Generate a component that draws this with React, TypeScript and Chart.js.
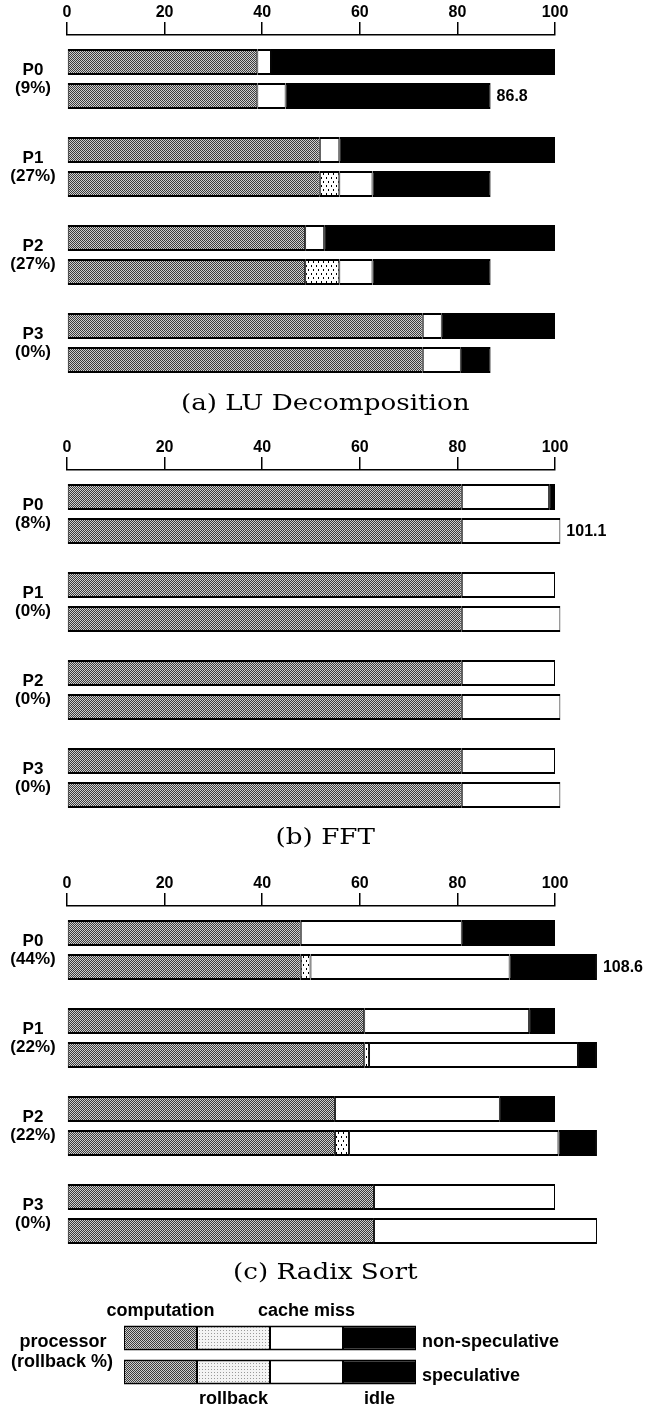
import React, { useEffect, useRef } from 'react';
import { Chart, registerables } from 'chart.js';
Chart.register(...registerables);

const processors = ['P0', 'P1', 'P2', 'P3'];
const xTickStep = 20;
const xMax = 100;

// (a) LU Decomposition
const luRollbackPct = ['(9%)', '(27%)', '(27%)', '(0%)'];
const luNsComputation = [39.0, 51.8, 48.8, 72.9];
const luNsRollback = [0, 0, 0, 0];
const luNsCacheMiss = [2.8, 4.0, 3.9, 3.9];
const luNsIdle = [58.2, 44.2, 47.3, 23.2];
const luSpComputation = [39.0, 51.8, 48.8, 72.9];
const luSpRollback = [0, 4.0, 7.0, 0];
const luSpCacheMiss = [5.8, 6.8, 6.8, 7.8];
const luSpIdle = [42.0, 24.2, 24.2, 6.1];

// (b) FFT
const fftRollbackPct = ['(8%)', '(0%)', '(0%)', '(0%)'];
const fftNsComputation = [80.9, 80.9, 80.9, 80.9];
const fftNsRollback = [0, 0, 0, 0];
const fftNsCacheMiss = [17.9, 19.1, 19.1, 19.1];
const fftNsIdle = [1.2, 0, 0, 0];
const fftSpComputation = [80.9, 80.9, 80.9, 80.9];
const fftSpRollback = [0, 0, 0, 0];
const fftSpCacheMiss = [20.2, 20.2, 20.2, 20.2];
const fftSpIdle = [0, 0, 0, 0];

// (c) Radix Sort
const rxRollbackPct = ['(44%)', '(22%)', '(22%)', '(0%)'];
const rxNsComputation = [47.9, 60.9, 54.9, 62.9];
const rxNsRollback = [0, 0, 0, 0];
const rxNsCacheMiss = [33.0, 33.8, 33.8, 37.1];
const rxNsIdle = [19.1, 5.3, 11.3, 0];
const rxSpComputation = [47.9, 60.9, 54.9, 62.9];
const rxSpRollback = [2.0, 1.0, 2.9, 0];
const rxSpCacheMiss = [40.8, 42.8, 42.9, 45.7];
const rxSpIdle = [17.9, 3.9, 7.9, 0];

// legend
const legendRows = ['non-speculative', 'speculative'];
const legendSegments = ['computation', 'rollback', 'cache miss', 'idle'];
const legendShare = [25, 25];

const SANS = '"Liberation Sans", Arial, Helvetica, sans-serif';

function makePattern(kind: string): CanvasPattern | string {
  const c = document.createElement('canvas');
  const g = c.getContext('2d')!;
  if (kind === 'checker') {
    c.width = 2; c.height = 2;
    g.fillStyle = '#cfcfcf'; g.fillRect(0, 0, 2, 2);
    g.fillStyle = '#3c3c3c'; g.fillRect(0, 0, 1, 1); g.fillRect(1, 1, 1, 1);
  } else if (kind === 'dots') {
    c.width = 5; c.height = 8;
    g.fillStyle = '#ffffff'; g.fillRect(0, 0, 5, 8);
    g.fillStyle = '#000000'; g.fillRect(1, 1, 1, 2); g.fillRect(3, 5, 1, 2);
  } else {
    c.width = 3; c.height = 3;
    g.fillStyle = '#f4f4f4'; g.fillRect(0, 0, 3, 3);
    g.fillStyle = '#9a9a9a'; g.fillRect(1, 1, 1, 1);
  }
  const p = g.createPattern(c, 'repeat');
  return p || '#888';
}

const nz = (a: number[]) => a.map((v) => (v === 0 ? null : v));

type PanelData = {
  pct: string[];
  ns: number[][];
  sp: number[][];
};

const panelLabelPlugin = {
  id: 'panelLabels',
  afterDraw(chart: any, _args: any, opts: any) {
    const { ctx } = chart;
    const x = chart.scales.x;
    const y = chart.scales.y;
    ctx.save();
    ctx.fillStyle = '#000';
    ctx.font = `bold 17px ${SANS}`;
    ctx.textAlign = 'center';
    ctx.textBaseline = 'middle';
    processors.forEach((p: string, i: number) => {
      const cy = y.getPixelForValue(i);
      ctx.fillText(p, 33, cy - 9);
      ctx.fillText(opts.pct[i], 33, cy + 9);
    });
    const total = opts.sp.reduce((s: number, arr: number[]) => s + arr[0], 0);
    const meta = chart.getDatasetMeta(4);
    const bar = meta.data[0] as any;
    ctx.textAlign = 'left';
    ctx.font = `bold 16px ${SANS}`;
    ctx.fillText(total.toFixed(1), x.getPixelForValue(total) + 6, bar.y + 1);
    ctx.restore();
  },
};

function Panel({ top, data }: { top: number; data: PanelData }) {
  const ref = useRef<HTMLCanvasElement>(null);
  useEffect(() => {
    const ctx = ref.current!.getContext('2d')!;
    const fills = [makePattern('checker'), makePattern('dots'), '#ffffff', '#000000'];
    const datasets: any[] = [];
    (['ns', 'sp'] as const).forEach((stack) => {
      const arrs = stack === 'ns' ? data.ns : data.sp;
      arrs.forEach((arr, k) => {
        datasets.push({
          label: `${stack}-${legendSegments[k]}`,
          data: nz(arr),
          stack,
          backgroundColor: fills[k],
          borderColor: '#000',
          borderWidth: { top: 2, bottom: 2, left: 1, right: 1 },
          borderSkipped: false,
          barPercentage: 0.765,
          categoryPercentage: 0.7727,
          clip: false,
        });
      });
    });
    const chart = new Chart(ctx, {
      type: 'bar',
      data: { labels: processors, datasets },
      plugins: [panelLabelPlugin],
      options: {
        indexAxis: 'y',
        animation: false,
        responsive: false,
        events: [],
        layout: { padding: { left: 67, right: 96, top: 0, bottom: 5 } },
        plugins: {
          legend: { display: false },
          tooltip: { enabled: false },
          title: { display: false },
          panelLabels: { pct: data.pct, sp: data.sp },
        } as any,
        scales: {
          x: {
            type: 'linear',
            position: 'top',
            stacked: true,
            min: 0,
            max: xMax,
            afterFit: (s: any) => { s.height = 35; },
            ticks: {
              stepSize: xTickStep,
              color: '#000',
              padding: 1,
              font: { family: SANS, size: 16, weight: 'bold', lineHeight: 1 },
            },
            grid: { drawOnChartArea: false, color: '#000', lineWidth: 1.5, tickLength: 13 },
            border: { display: true, color: '#000', width: 1.5 },
          },
          y: {
            type: 'category',
            stacked: true,
            display: false,
          },
        },
      } as any,
    });
    return () => chart.destroy();
  }, []);
  return (
    <canvas
      ref={ref}
      width={651}
      height={392}
      style={{ position: 'absolute', left: 0, top, width: 651, height: 392 }}
    />
  );
}

const legendTextPlugin = {
  id: 'legendTexts',
  afterDraw(chart: any) {
    const { ctx, chartArea } = chart;
    const x = chart.scales.x;
    const y = chart.scales.y;
    const topBar = chart.getDatasetMeta(0).data[0] as any;
    const botBar = chart.getDatasetMeta(0).data[1] as any;
    const h = topBar.height;
    ctx.save();
    ctx.fillStyle = '#000';
    ctx.font = `bold 18px ${SANS}`;
    ctx.textBaseline = 'middle';
    ctx.textAlign = 'center';
    let acc = 0;
    legendSegments.forEach((name, k) => {
      const cx = x.getPixelForValue(acc + legendShare[0] / 2);
      acc += legendShare[0];
      if (k % 2 === 0) ctx.fillText(name, cx, topBar.y - h / 2 - 14);
      else ctx.fillText(name, cx, botBar.y + h / 2 + 15);
    });
    const mid = (chartArea.top + chartArea.bottom) / 2;
    ctx.fillText('processor', chartArea.left - 61, mid - 13);
    ctx.fillText('(rollback %)', chartArea.left - 62, mid + 7);
    ctx.textAlign = 'left';
    legendRows.forEach((r, i) => {
      ctx.fillText(r, chartArea.right + 6, y.getPixelForValue(i) + 4);
    });
    ctx.restore();
  },
};

function LegendChart({ top }: { top: number }) {
  const ref = useRef<HTMLCanvasElement>(null);
  useEffect(() => {
    const ctx = ref.current!.getContext('2d')!;
    const fills = [makePattern('checker'), makePattern('light'), '#ffffff', '#000000'];
    const datasets = legendSegments.map((name, k) => ({
      label: name,
      data: legendShare,
      backgroundColor: fills[k],
      borderColor: '#000',
      borderWidth: { top: 2, bottom: 2, left: 1, right: 1 },
      borderSkipped: false,
      barPercentage: 0.735,
      categoryPercentage: 1,
    }));
    const chart = new Chart(ctx, {
      type: 'bar',
      data: { labels: legendRows, datasets },
      plugins: [legendTextPlugin],
      options: {
        indexAxis: 'y',
        animation: false,
        responsive: false,
        events: [],
        layout: { padding: { left: 124, right: 235, top: 31, bottom: 20 } },
        plugins: { legend: { display: false }, tooltip: { enabled: false } },
        scales: {
          x: { type: 'linear', stacked: true, min: 0, max: 100, display: false },
          y: { type: 'category', stacked: true, display: false },
        },
      } as any,
    });
    return () => chart.destroy();
  }, []);
  return (
    <canvas
      ref={ref}
      width={651}
      height={119}
      style={{ position: 'absolute', left: 0, top, width: 651, height: 119 }}
    />
  );
}

function Title({ text, center }: { text: string; center: number }) {
  return (
    <div
      style={{
        position: 'absolute',
        left: 0,
        top: center - 16,
        width: 651,
        height: 32,
        lineHeight: '32px',
        textAlign: 'center',
        fontFamily: '"DejaVu Serif", "Liberation Serif", serif',
        fontSize: 23,
        color: '#000',
        transform: 'scaleX(1.14)',
        transformOrigin: '327px 50%',
      }}
    >
      {text}
    </div>
  );
}

const luData: PanelData = {
  pct: luRollbackPct,
  ns: [luNsComputation, luNsRollback, luNsCacheMiss, luNsIdle],
  sp: [luSpComputation, luSpRollback, luSpCacheMiss, luSpIdle],
};
const fftData: PanelData = {
  pct: fftRollbackPct,
  ns: [fftNsComputation, fftNsRollback, fftNsCacheMiss, fftNsIdle],
  sp: [fftSpComputation, fftSpRollback, fftSpCacheMiss, fftSpIdle],
};
const rxData: PanelData = {
  pct: rxRollbackPct,
  ns: [rxNsComputation, rxNsRollback, rxNsCacheMiss, rxNsIdle],
  sp: [rxSpComputation, rxSpRollback, rxSpCacheMiss, rxSpIdle],
};

export default function App() {
  return (
    <div style={{ position: 'absolute', left: 0, top: 0, width: 651, height: 1409, background: '#fff', overflow: 'hidden' }}>
      <Panel top={0} data={luData} />
      <Title text="(a) LU Decomposition" center={402} />
      <Panel top={435} data={fftData} />
      <Title text="(b) FFT" center={836} />
      <Panel top={871} data={rxData} />
      <Title text="(c) Radix Sort" center={1271} />
      <LegendChart top={1290} />
    </div>
  );
}
